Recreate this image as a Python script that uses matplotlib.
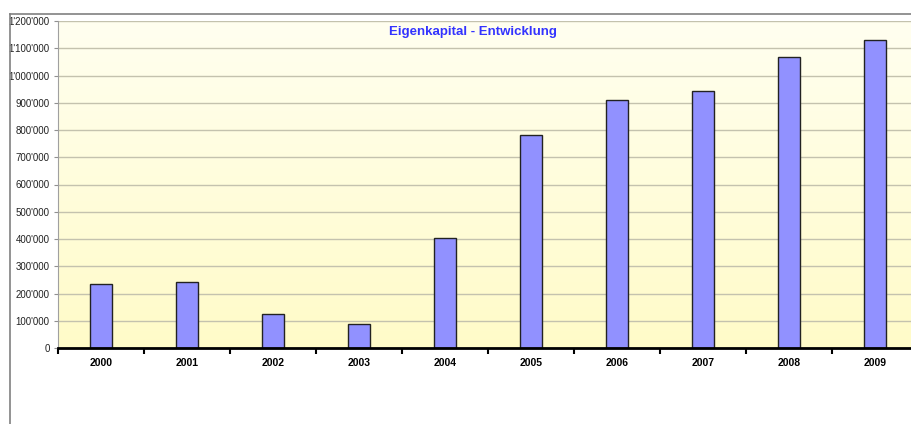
import numpy as np
import matplotlib
matplotlib.use("Agg")
import matplotlib.pyplot as plt
from matplotlib.colors import LinearSegmentedColormap
from matplotlib.ticker import FuncFormatter, MultipleLocator

years = ["2000", "2001", "2002", "2003", "2004", "2005", "2006", "2007", "2008", "2009"]
equity = [235000, 242000, 125000, 88000, 404000, 782000, 910000, 943000, 1068000, 1130000]

plt.rcParams["font.family"] = ["Liberation Sans", "DejaVu Sans"]


def swiss_fmt(v, pos):
    return "{:,.0f}".format(v).replace(",", "'")


fig = plt.figure(figsize=(9.12, 4.24), dpi=100)

# outer chart frame (top and left edges visible)
fig.add_artist(plt.Line2D([10 / 912, 1], [1 - 14 / 424, 1 - 14 / 424], color="#808080", lw=1.2))
fig.add_artist(plt.Line2D([10 / 912, 10 / 912], [0, 1 - 14 / 424], color="#808080", lw=1.2))

ax = fig.add_axes([58 / 912, 1 - 348 / 424, 860 / 912, 327 / 424])

# background gradient
cmap = LinearSegmentedColormap.from_list("bg", ["#FFFBC8", "#FFFFF0"])
grad = np.linspace(0, 1, 256).reshape(-1, 1)
ax.imshow(grad, cmap=cmap, aspect="auto", extent=[-0.5, len(years) - 0.5, 0, 1200000],
          origin="lower", zorder=0)

x = np.arange(len(years))
ax.bar(x, equity, width=0.26, color="#9191FF", edgecolor="#222222", linewidth=1.0, zorder=3)

ax.set_xlim(-0.5, len(years) - 0.5)
ax.set_ylim(0, 1200000)
ax.yaxis.set_major_locator(MultipleLocator(100000))
ax.yaxis.set_major_formatter(FuncFormatter(swiss_fmt))
ax.grid(axis="y", color="#C4C2AE", lw=1.0, zorder=1)

ax.set_xticks(np.arange(-0.5, len(years), 1))
ax.set_xticklabels([])
ax.set_xticks(x, minor=True)
ax.set_xticklabels(years, minor=True, fontsize=7.5, fontweight="bold")
ax.tick_params(axis="x", which="major", direction="out", length=4, width=1.5, color="black")
ax.tick_params(axis="x", which="minor", length=0, pad=7)
ax.tick_params(axis="y", direction="out", length=3, width=0.8, color="#909090",
               labelsize=7, pad=3, labelcolor="#222222")

for side in ["top", "right"]:
    ax.spines[side].set_visible(False)
ax.spines["left"].set_color("#A0A0A0")
ax.spines["left"].set_linewidth(0.8)
ax.spines["bottom"].set_color("black")
ax.spines["bottom"].set_linewidth(2.0)
ax.spines["bottom"].set_zorder(5)

ax.text(473 / 912, 1 - 32 / 424, "Eigenkapital - Entwicklung", transform=fig.transFigure,
        ha="center", va="center", color="#3333FF", fontsize=9.5, fontweight="bold")

fig.savefig("out.png", dpi=100)
